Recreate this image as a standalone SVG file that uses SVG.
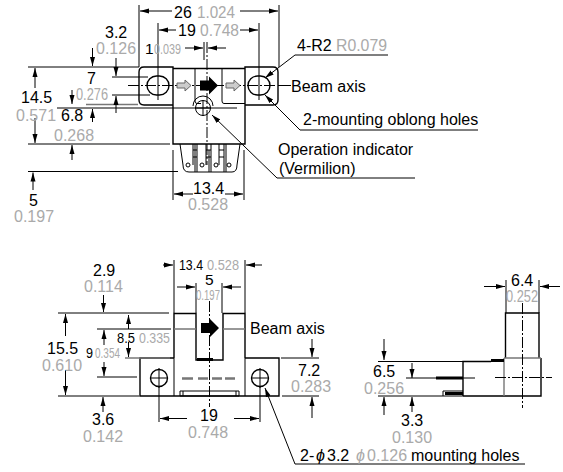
<svg xmlns="http://www.w3.org/2000/svg" width="563" height="472" viewBox="0 0 563 472">
<style>
text{font-family:"Liberation Sans",Arial,sans-serif;font-size:16px;fill:#000}
text.g{fill:#aaa}
text.n{font-size:15.5px}
text.s{font-size:14px}
.l{stroke:#000;stroke-width:1;fill:none}
.t{stroke:#000;stroke-width:1.4;fill:none}
.h{stroke:#000;stroke-width:3;fill:none}
.m{stroke:#777;stroke-width:1.4;fill:none}
.c{stroke:#000;stroke-width:1;fill:none;stroke-dasharray:11 2 2 2}
.a{stroke:#000;stroke-width:1;fill:none;marker-end:url(#ah)}
</style>
<defs>
<marker id="ah" markerUnits="userSpaceOnUse" markerWidth="10" markerHeight="6" refX="9" refY="3" orient="auto"><path d="M0 0.500L9 3L0 5.500Z" fill="#000"/></marker>
<path id="big" d="M-9 -5H0V-9L9 0L0 9V5H-9Z" fill="#000"/>
<path id="small" d="M-7 -2.500H1V-5.500L7 0L1 5.500V2.500H-7Z" fill="#ccc" stroke="#666" stroke-width="1"/>
</defs>
<g id="top-view">
<path class="t" d="M173 68.500H245M173 67H144Q139 67 139 72V100Q139 105 144 105H173V67ZM245 67H273Q278 67 278 72V100Q278 105 273 105H245V67ZM173 105V144H245V105"/>
<path class="l" d="M195 68.500V101Q195 103.500 197 103.500H201M222 68.500V101Q222 103.500 224 103.500H245"/>
<rect class="t" x="147" y="76" width="22" height="19" rx="9.500"/>
<rect class="t" x="248" y="76" width="22" height="19" rx="9.500"/>
<path class="l" d="M158 23V100M259 23V100"/>
<path class="c" d="M128 85.500H276"/>
<use href="#big" x="209" y="85.500"/>
<use href="#small" x="184" y="85.500"/>
<use href="#small" x="233" y="85.500"/>
<circle class="l" cx="203" cy="108" r="7.500"/>
<path class="l" d="M193 106A10 10 0 0 1 213 106M203 100V116M195 108H211"/>
<path class="c" d="M207 42V165"/>
<path class="l" d="M180 144L183 165Q183 172 189 172H232Q237 172 237 165L240 144"/>
<path class="l" d="M195 144V172M197 144V172M209 150V172M211 144V172M224 144V172M226 144V172M193 144V165M206 144V165M219 144V165M193 150H197M193 157H197M206 150H211M206 157H211M219 150H224M219 157H224"/>
<circle class="l" cx="188" cy="165" r="2" style="fill:#fff"/>
<circle class="l" cx="202" cy="165" r="2" style="fill:#fff"/>
<circle class="l" cx="216" cy="165" r="2" style="fill:#fff"/>
<circle class="l" cx="229" cy="165" r="2" style="fill:#fff"/>
</g>
<g id="front-view">
<path class="t" d="M174 358V313.500H196V360H223V313.500H245V358M174 358H140V396H279V358H245"/>
<path class="l" d="M174 358V396M245 358V396"/>
<path class="m" d="M174 329H196M223 329H245"/>
<path class="h" d="M197 359.500H213"/>
<path class="m" d="M182 378.500H193M198 378.500H208M212 378.500H222M225 378.500H235" style="stroke-width:2.500"/>
<path class="l" d="M180 391H239V396H180ZM183 391V396M236 391V396"/>
<use href="#big" x="210" y="328"/>
<circle class="t" cx="159" cy="378" r="8.500"/>
<circle class="t" cx="260" cy="378" r="8.500"/>
<path class="l" d="M159 368V388M150 378H168M260 368V388M251 378H269"/>
<path class="c" d="M209.500 301V407"/>
</g>
<g id="side-view">
<path class="t" d="M505.500 358V313H539V358M463 396V361.500H491M463 396H541V358"/>
<path class="m" d="M504 358H541M504 358V396"/>
<path class="h" d="M491 360.500H504M436 378H463M445 393.500H463"/>
<path class="l" d="M443 396V391H463"/>
<path class="c" d="M522.500 303V408M495 377.500H552"/>
<path class="l" d="M406 378H436M463 378H475"/>
</g>
<g id="connectors">
<path class="l" d="M139 5V67M279 5V67M204 42V60M173 150V200M244 150V200"/>
<path class="a" d="M172 11H140"/><path class="a" d="M240 11H278"/>
<path class="a" d="M176 30H159"/><path class="a" d="M240 30H258"/>
<path class="a" d="M185 48H203"/><path class="a" d="M226 48H208"/>
<path class="a" d="M193 194H174"/><path class="a" d="M225 194H243"/>
<path class="l" d="M28 67H139M112 77H148M112 95H150M57 108H237M28 144H170M28 171.500H178"/>
<path class="m" d="M86 104.500H138"/>
<path class="a" d="M35 88V68"/><path class="a" d="M35 118V143"/>
<path class="a" d="M92.500 48V66"/><path class="a" d="M116 58V76"/>
<path class="a" d="M72 90V104"/><path class="a" d="M92.500 122V109"/>
<path class="a" d="M116 113V96"/><path class="a" d="M72 160V145"/>
<path class="a" d="M33 190V172.500"/>
<path class="l" d="M295 55H388M278 85.500H291M300 130H478M277 178H415"/>
<path class="a" d="M295 55L265 78"/>
<path class="a" d="M300 130L265 95"/>
<path class="a" d="M277 178L212 115"/>
<path class="l" d="M174 260V313M245 260V313M196 283V313M222 283V313"/>
<path class="a" d="M163 265H173"/><path class="a" d="M262 265H246"/>
<path class="a" d="M177 287H195"/><path class="a" d="M241 287H223"/>
<path class="l" d="M58 313H169M97 329H171M97 377H137M58 396H139M281 358H319M282 396H319"/>
<path class="m" d="M125 358H170"/>
<path class="a" d="M103.500 295V312"/><path class="a" d="M65.500 336V314"/><path class="a" d="M65.500 370V395"/>
<path class="a" d="M128.500 329V315"/><path class="a" d="M128.500 342V357"/>
<path class="a" d="M104 345V330"/><path class="a" d="M104 362V376"/>
<path class="a" d="M103 412V397"/>
<path class="l" d="M159 387V422M260 387V422"/>
<path class="a" d="M187 418.500H160"/><path class="a" d="M234 418.500H259"/>
<path class="a" d="M312 339V357"/><path class="a" d="M312 418V397"/>
<path class="l" d="M378 361.500H463M378 396H463"/>
<path class="a" d="M384 339V360"/><path class="a" d="M384 415V397"/>
<path class="a" d="M412 363V378"/><path class="a" d="M412 412V397"/>
<path class="l" d="M506 280V313M539 280V313"/>
<path class="a" d="M484 286.500H505"/><path class="a" d="M560 286.500H540"/>
<path class="a" d="M295 464L265 388"/>
<path class="l" d="M295 464H525"/>
</g>
<g id="labels">
<text x="174" y="18">26</text><text class="g" x="197" y="18" textLength="38" lengthAdjust="spacingAndGlyphs">1.024</text>
<text x="178" y="36">19</text><text class="g" x="200" y="36" textLength="39" lengthAdjust="spacingAndGlyphs">0.748</text>
<text x="105" y="38">3.2</text><text class="g" x="96" y="54">0.126</text>
<text class="n" x="145" y="54">1</text><text class="g s" x="154" y="54" textLength="27" lengthAdjust="spacingAndGlyphs">0.039</text>
<text x="87" y="84">7</text><text class="g" x="76" y="100" textLength="32" lengthAdjust="spacingAndGlyphs">0.276</text>
<text x="21" y="103">14.5</text><text class="g" x="16" y="121">0.571</text>
<text x="61" y="121">6.8</text><text class="g" x="54" y="141">0.268</text>
<text x="29" y="206">5</text><text class="g" x="14" y="222">0.197</text>
<text x="193" y="194">13.4</text><text class="g" x="188" y="210">0.528</text>
<text x="297" y="51">4-R2</text><text class="g" x="336" y="51" textLength="51" lengthAdjust="spacingAndGlyphs">R0.079</text>
<text x="291" y="92">Beam axis</text>
<text x="303" y="125">2-mounting oblong holes</text>
<text x="278" y="155">Operation indicator</text>
<text x="279" y="174">(Vermilion)</text>
<text class="n" x="179" y="270" textLength="24" lengthAdjust="spacingAndGlyphs">13.4</text><text class="g n" x="207" y="270" textLength="32" lengthAdjust="spacingAndGlyphs">0.528</text>
<text class="n" x="205" y="285">5</text><text class="g s" x="196" y="300" textLength="24" lengthAdjust="spacingAndGlyphs">0.197</text>
<text x="93" y="276">2.9</text><text class="g" x="84" y="292">0.114</text>
<text x="47" y="354">15.5</text><text class="g" x="42" y="371">0.610</text>
<text class="n" x="117" y="343" textLength="18" lengthAdjust="spacingAndGlyphs">8.5</text><text class="g n" x="139" y="343" textLength="31" lengthAdjust="spacingAndGlyphs">0.335</text>
<text class="n" x="86" y="358" textLength="7" lengthAdjust="spacingAndGlyphs">9</text><text class="g s" x="95" y="358" textLength="25" lengthAdjust="spacingAndGlyphs">0.354</text>
<text x="92" y="425">3.6</text><text class="g" x="83" y="442">0.142</text>
<text x="200" y="421">19</text><text class="g" x="188" y="438">0.748</text>
<text x="250" y="334">Beam axis</text>
<text x="298" y="376">7.2</text><text class="g" x="291" y="392">0.283</text>
<text x="373" y="377">6.5</text><text class="g" x="364" y="394">0.256</text>
<text x="401" y="426">3.3</text><text class="g" x="392" y="443">0.130</text>
<text x="511" y="286">6.4</text><text class="g" x="506" y="302" textLength="32" lengthAdjust="spacingAndGlyphs">0.252</text>
<text x="300" y="461">2-</text><text x="316" y="461" font-family="Liberation Serif" font-style="italic">ϕ</text><text x="327" y="461">3.2</text><text class="g" x="356" y="461" font-family="Liberation Serif" font-style="italic">ϕ</text><text class="g" x="367" y="461">0.126</text><text x="411" y="461">mounting holes</text>
</g>
</svg>
